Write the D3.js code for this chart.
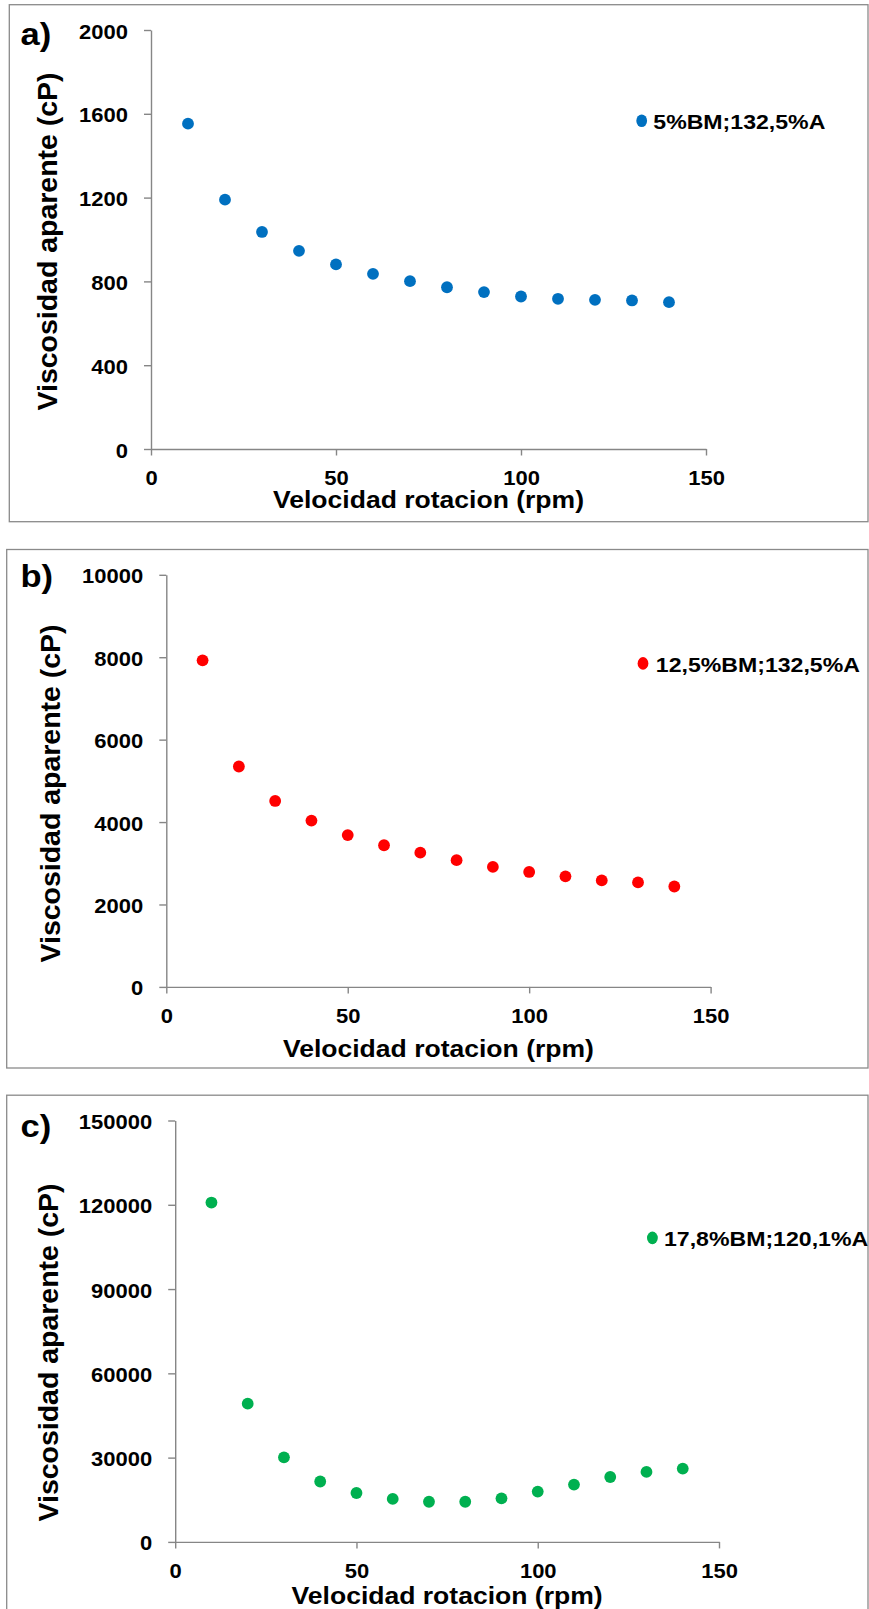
<!DOCTYPE html>
<html><head><meta charset="utf-8">
<script src="https://cdn.jsdelivr.net/npm/d3@7"></script>
<style>
html,body{margin:0;padding:0;background:#fff;}
svg{display:block;}
text{font-family:"Liberation Sans",Arial,sans-serif;font-weight:bold;fill:#000;}
</style></head>
<body>
<script>
// ---- data ----
const rpm = [10,20,30,40,50,60,70,80,90,100,110,120,130,140];
const viscA = [1553,1190,1036,946,881,836,801,772,749,728,717,712,709,701];
const viscB = [7924,5348,4512,4036,3683,3437,3257,3076,2912,2789,2682,2584,2535,2436];
const viscC = [120800,49200,30100,21500,17400,15300,14300,14300,15500,17900,20400,23100,24900,26100];
const xTicks = [0,50,100,150];
const yTicksA = [0,400,800,1200,1600,2000];
const yTicksB = [0,2000,4000,6000,8000,10000];
const yTicksC = [0,30000,60000,90000,120000,150000];
const seriesNames = ["5%BM;132,5%A","12,5%BM;132,5%A","17,8%BM;120,1%A"];
const panelLabels = ["a)","b)","c)"];
const colors = ["#0070C0","#FF0000","#00B050"];
const xTitle = "Velocidad rotacion (rpm)";
const yTitle = "Viscosidad aparente (cP)";

const W = 869, H = 1609;
const svg = d3.select("body").append("svg").attr("width",W).attr("height",H);

function stretch(sel, f){
  sel.each(function(){
    const w = this.getComputedTextLength();
    d3.select(this).attr("textLength", w*f).attr("lengthAdjust","spacingAndGlyphs");
  });
}

const panels = [
  {box:[9.3,4.7,868,521.7], x0:151, x1:706, y0:449, y1:30, ticks:yTicksA, data:viscA,
   lab:[20.5,44.5], ytx:57, yty:241.5, xtb:508.3, leg:[641.7,120.7], legTx:653.3},
  {box:[6.7,549.5,868,1068], x0:166.3, x1:710.6, y0:986.9, y1:574.8, ticks:yTicksB, data:viscB,
   lab:[20.5,587], ytx:60, yty:793.5, xtb:1057.2, leg:[643,663.4], legTx:655.8},
  {box:[6.7,1095.2,868,1640], x0:175.2, x1:719, y0:1541.9, y1:1120.5, ticks:yTicksC, data:viscC,
   lab:[20.5,1137], ytx:58, yty:1352.5, xtb:1603.5, leg:[652.4,1237.9], legTx:664}
];

panels.forEach((p,i)=>{
  const g = svg.append("g");
  g.append("rect").attr("x",p.box[0]).attr("y",p.box[1])
    .attr("width",p.box[2]-p.box[0]).attr("height",p.box[3]-p.box[1])
    .attr("fill","none").attr("stroke","#8a8a8a").attr("stroke-width",1.3);

  const x = d3.scaleLinear().domain([0,150]).range([p.x0,p.x1]);
  const y = d3.scaleLinear().domain([0,p.ticks[p.ticks.length-1]]).range([p.y0,p.y1]);

  const xa = g.append("g").attr("transform",`translate(0,${p.y0})`)
    .call(d3.axisBottom(x).tickValues(xTicks).tickSize(6.5).tickSizeOuter(0).tickPadding(15.5).tickFormat(d3.format("d")));
  const ya = g.append("g").attr("transform",`translate(${p.x0},0)`)
    .call(d3.axisLeft(y).tickValues(p.ticks).tickSize(7).tickSizeOuter(0).tickPadding(16).tickFormat(d3.format("d")));
  [xa,ya].forEach(a=>{
    a.select(".domain").attr("stroke","#868686").attr("stroke-width",1.4);
    a.selectAll(".tick line").attr("stroke","#868686").attr("stroke-width",1.4);
    a.selectAll(".tick text").attr("font-size",20).attr("fill","#000")
      .attr("font-family",'"Liberation Sans",Arial,sans-serif').attr("font-weight","bold");
    stretch(a.selectAll(".tick text"),1.1);
  });
  ya.selectAll(".tick text").attr("dy","0.4em");

  g.selectAll("circle.pt").data(rpm.map((r,k)=>[r,p.data[k]])).enter()
    .append("circle").attr("class","pt")
    .attr("cx",d=>x(d[0])).attr("cy",d=>y(d[1])).attr("r",5.9).attr("fill",colors[i]);

  // panel label
  const pl = g.append("text").attr("x",p.lab[0]).attr("y",p.lab[1]).attr("font-size",32).text(panelLabels[i]);
  stretch(pl,1.08);

  // axis titles
  const xt = g.append("text").attr("x",(p.x0+p.x1)/2).attr("y",p.xtb).attr("text-anchor","middle")
    .attr("font-size",23.5).text(xTitle);
  xt.attr("textLength",311).attr("lengthAdjust","spacingAndGlyphs");
  g.append("text").attr("transform",`translate(${p.ytx},${p.yty}) rotate(-90)`).attr("text-anchor","middle")
    .attr("font-size",28.5).attr("textLength",338).attr("lengthAdjust","spacingAndGlyphs").text(yTitle);

  // legend
  g.append("ellipse").attr("cx",p.leg[0]).attr("cy",p.leg[1]).attr("rx",5.4).attr("ry",6.3).attr("fill",colors[i]);
  const lt = g.append("text").attr("x",p.legTx).attr("y",p.leg[1]+8.2).attr("font-size",21).text(seriesNames[i]);
  stretch(lt,1.1);
});
</script>
</body></html>
